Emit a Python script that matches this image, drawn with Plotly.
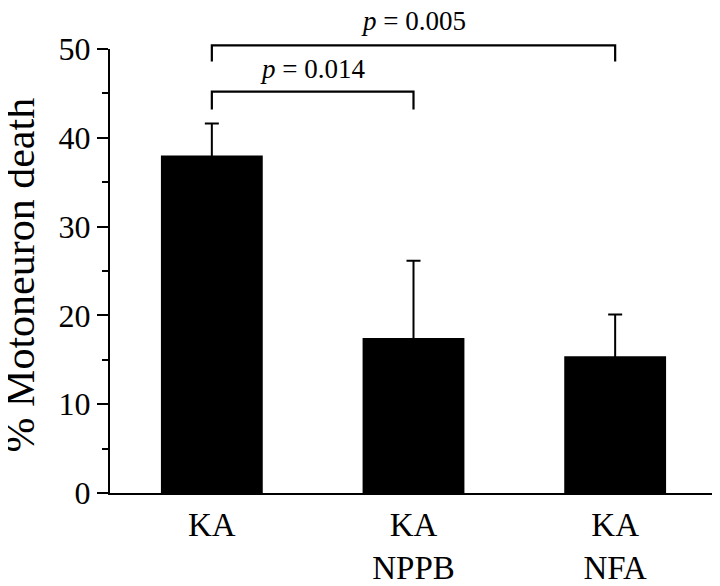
import plotly.graph_objects as go

categories = ["KA", "KA<br>NPPB", "KA<br>NFA"]
means = [38.0, 17.45, 15.4]
sem_plus = [3.6, 8.7, 4.7]
y_ticks = [0, 10, 20, 30, 40, 50]

# significance brackets: (left index, right index, bar level, end level, text level, label)
brackets = [
    (0, 1, 45.2, 43.2, 47.7, "<i>p</i> = 0.014"),
    (0, 2, 50.4, 48.6, 53.1, "<i>p</i> = 0.005"),
]

Y_MAX = 50
FONT = "Liberation Serif"
HIDE = 0.6  # error bar base tucked inside the black bar so no lower cap shows

# page body has an 8px margin; size the figure so that it fills the 720x586 window
L, R, T, B = 102, 3, 41, 93
W, H = 712, 578
PLOT_W = W - L - R

fig = go.Figure()
fig.add_trace(go.Bar(
    x=[0, 1, 2], y=means,
    marker=dict(color="black", line=dict(width=0)),
    width=0.505,
))
fig.add_trace(go.Scatter(
    x=[0, 1, 2], y=[m - HIDE for m in means],
    mode="markers", marker=dict(size=1, color="black", opacity=0),
    error_y=dict(type="data", array=[s + HIDE for s in sem_plus], arrayminus=[0, 0, 0],
                 symmetric=False, color="black", thickness=2, width=7),
    hoverinfo="skip",
))

shapes = []
annotations = []
for i0, i1, lvl, end, tl, label in brackets:
    shapes.append(dict(type="path", xref="x", yref="paper",
                       path=f"M {i0},{end / Y_MAX} L {i0},{lvl / Y_MAX} L {i1},{lvl / Y_MAX} L {i1},{end / Y_MAX}",
                       line=dict(color="black", width=2.2)))
    annotations.append(dict(x=(i0 + i1) / 2, y=tl / Y_MAX, xref="x", yref="paper",
                            text=label, showarrow=False,
                            font=dict(family=FONT, size=27, color="black"),
                            xanchor="center", yanchor="middle"))

annotations.append(dict(text="% Motoneuron death", textangle=-90,
                        xref="paper", yref="paper", x=(12 - L) / PLOT_W, y=0.49,
                        xanchor="center", yanchor="middle", showarrow=False,
                        font=dict(family=FONT, size=42, color="black")))

fig.update_layout(
    width=W, height=H,
    margin=dict(l=L, r=R, t=T, b=B, autoexpand=False),
    paper_bgcolor="white", plot_bgcolor="white",
    showlegend=False,
    shapes=shapes, annotations=annotations,
    font=dict(family=FONT, color="black"),
)
fig.update_xaxes(
    range=[-0.505, 2.505],
    tickvals=[0, 1, 2], ticktext=categories,
    showline=True, linecolor="black", linewidth=2.2,
    ticks="", showgrid=False, zeroline=False, automargin=False,
    tickfont=dict(family=FONT, size=33, color="black"),
    ticklabelstandoff=1,
)
fig.update_yaxes(
    range=[0, Y_MAX],
    tickvals=y_ticks,
    showline=True, linecolor="black", linewidth=2.2,
    ticks="outside", ticklen=11, tickwidth=2.2, tickcolor="black",
    minor=dict(dtick=5, ticks="outside", ticklen=6, tickwidth=2.2, tickcolor="black", showgrid=False),
    showgrid=False, zeroline=False, automargin=False,
    tickfont=dict(family=FONT, size=32, color="black"),
)

fig.write_html("out.html")
